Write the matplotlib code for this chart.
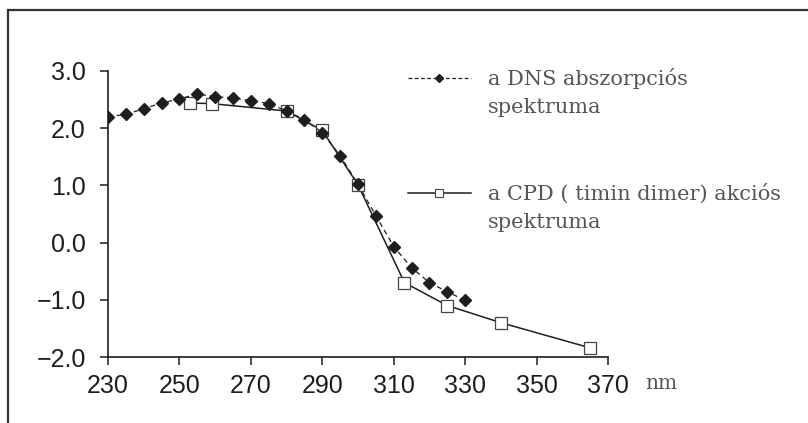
import numpy as np
import matplotlib
matplotlib.use('Agg')
import matplotlib.pyplot as plt
from matplotlib.lines import Line2D
from matplotlib.patches import Rectangle

# DNA absorption spectrum (filled diamonds, dashed)
dns_nm = [230, 235, 240, 245, 250, 255, 260, 265, 270, 275, 280, 285, 290, 295,
          300, 305, 310, 315, 320, 325, 330]
dns_val = [2.20, 2.24, 2.34, 2.44, 2.51, 2.60, 2.55, 2.53, 2.48, 2.43, 2.30, 2.15,
           1.92, 1.52, 1.02, 0.47, -0.07, -0.44, -0.70, -0.86, -1.01]

# CPD (thymine dimer) action spectrum (open squares, solid)
cpd_nm = [253, 259, 280, 290, 300, 313, 325, 340, 365]
cpd_val = [2.44, 2.43, 2.30, 1.96, 1.01, -0.70, -1.10, -1.40, -1.84]

x_ticks = [230, 250, 270, 290, 310, 330, 350, 370]
y_ticks = [-2.0, -1.0, 0.0, 1.0, 2.0, 3.0]

dns_label = ['a DNS abszorpciós', 'spektruma']
cpd_label = ['a CPD ( timin dimer) akciós', 'spektruma']

ink = '#1e1e1e'
grey_text = '#555555'

fig = plt.figure(figsize=(8.08, 4.23), dpi=100)
ax = fig.add_axes([0.1337, 0.156, 0.6188, 0.6762])

# scanned page frame (top and left edge)
fig.add_artist(Rectangle((8 / 808, -0.2), 1.2, 1.2 - 10 / 423,
                         transform=fig.transFigure, fill=False,
                         edgecolor='#333333', linewidth=1.6))

ax.plot(dns_nm, dns_val, linestyle=(0, (4, 3)), color=ink, linewidth=0.9,
        marker='D', markersize=6.5, markerfacecolor=ink, markeredgecolor=ink,
        zorder=3)
ax.plot(cpd_nm, cpd_val, linestyle='-', color=ink, linewidth=1.1,
        marker='s', markersize=8.5, markerfacecolor='white',
        markeredgecolor='#444444', markeredgewidth=0.9, zorder=2)

ax.set_xlim(230, 370)
ax.set_ylim(-2, 3)
ax.set_xticks(x_ticks)
ax.set_yticks(y_ticks)
ax.set_yticklabels([('%.1f' % v).replace('-', '\u2212') for v in y_ticks])
for s in ['top', 'right']:
    ax.spines[s].set_visible(False)
for s in ['left', 'bottom']:
    ax.spines[s].set_color(ink)
    ax.spines[s].set_linewidth(1.2)
ax.tick_params(direction='out', length=6, width=1.1, color=ink,
               labelsize=18, labelcolor=ink)
ax.tick_params(axis='x', pad=6)
ax.tick_params(axis='y', pad=10)
for lab in ax.get_xticklabels() + ax.get_yticklabels():
    lab.set_family('Liberation Sans')
ax.set_facecolor('none')

ax.text(1.074, -0.093, 'nm', transform=ax.transAxes, family='DejaVu Serif',
        fontsize=14.5, color=grey_text, ha='left', va='center')

# legend, one row per text line so the handle sits on the first line
blank = Line2D([], [], linestyle='none')
h_dns = Line2D([], [], linestyle=(0, (3, 2)), color=ink, linewidth=0.9,
               marker='D', markersize=4, markerfacecolor=ink)
h_cpd = Line2D([], [], linestyle='-', color=ink, linewidth=1.1,
               marker='s', markersize=6, markerfacecolor='white',
               markeredgecolor='#444444', markeredgewidth=0.8)
handles = [h_dns, blank, blank, blank, h_cpd, blank]
labels = [dns_label[0], dns_label[1], '', '', cpd_label[0], cpd_label[1]]
leg = ax.legend(handles, labels, loc='upper left', bbox_to_anchor=(0.6, 1.01),
                frameon=False, borderpad=0, borderaxespad=0,
                handlelength=3.0, handletextpad=0.85,
                labelspacing=0.45, prop={'family': 'DejaVu Serif', 'size': 15})
for t in leg.get_texts():
    t.set_color(grey_text)

fig.savefig('out.png', dpi=100, facecolor='white')
